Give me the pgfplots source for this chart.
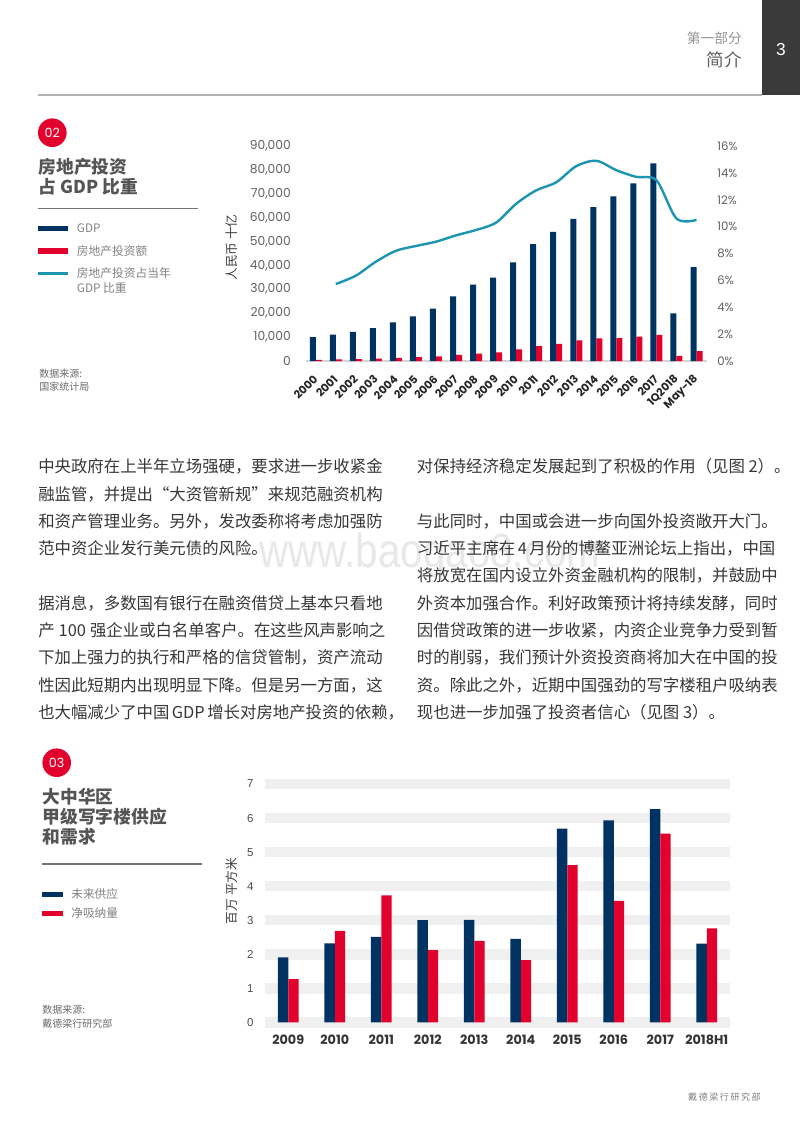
\documentclass[border=0pt]{standalone}
\usepackage{fontspec}
\setmainfont{Noto Sans CJK SC}
\newfontfamily\popp{Poppins}
\newfontfamily\lib{Liberation Sans}
\usepackage{pgfplots}
\pgfplotsset{compat=1.18}
\definecolor{navy}{RGB}{0,51,97}
\definecolor{cwred}{RGB}{226,0,45}
\definecolor{lteal}{RGB}{28,150,176}
\definecolor{band}{RGB}{240,240,240}
\definecolor{txt}{RGB}{55,55,55}
\definecolor{ttl}{RGB}{85,85,85}
\definecolor{lg}{RGB}{130,130,130}
\definecolor{dbox}{RGB}{58,58,58}
\XeTeXlinebreaklocale "zh"
\XeTeXlinebreakskip=0pt plus 3pt minus 0.5pt
\newcommand\fs[1]{\fontsize{#1}{#1}\selectfont}
\newcommand\BLL[2]{\node[anchor=base west,inner sep=0pt,text=txt,font=\fs{12.3pt}] at (38,#1) {\hbox to 260.25pt{#2}};}
\newcommand\BLR[2]{\node[anchor=base west,inner sep=0pt,text=txt,font=\fs{12.3pt}] at (416.7,#1) {\hbox to 255.75pt{#2}};}
\newcommand\BN[3]{\node[anchor=base west,inner sep=0pt,text=txt,font=\fs{12.3pt}] at (#1,#2) {#3};}
\begin{document}
\begin{tikzpicture}
\begin{scope}[x=0.75pt,y=-0.75pt]
\useasboundingbox (0,0) rectangle (800,1132);
\fill[white] (0,0) rectangle (800,1132);
% header
\fill[dbox] (762,0) rectangle (800,95);
\node[text=white,font=\lib\fs{13pt}] at (781,50) {3};
\node[anchor=east,inner sep=0pt,text=black!42,font=\fs{10.3pt}] at (742,38) {第一部分};
\node[anchor=east,inner sep=0pt,text=black!62,font=\fs{13.2pt}] at (742,60) {简介};
\draw[black!30,line width=0.9pt] (38,95) -- (762,95);
% watermark
\node[anchor=base,inner sep=0pt,text=black!9,font=\lib\fs{36pt},xscale=0.84,transform shape] at (430,567) {www.baogao8.com};
% chart 1 side
\fill[cwred] (52.3,132.7) circle (14.3);
\node[text=white,font=\popp\fs{9.5pt}] at (52.3,132.7) {02};
\node[anchor=west,inner sep=0pt,text=ttl,font=\bfseries\fs{13.3pt}] at (38.5,167) {房地产投资};
\node[anchor=west,inner sep=0pt,text=ttl,font=\bfseries\fs{13.3pt}] at (38.5,186.5) {占 GDP 比重};
\draw[black!55,line width=0.9pt] (38,208.3) -- (198,208.3);
\fill[navy] (38,225.5) rectangle (68,231.2);
\node[anchor=west,inner sep=0pt,text=lg,font=\fs{8.8pt}] at (76.7,228.3) {GDP};
\fill[cwred] (38,248.2) rectangle (68,253.9);
\node[anchor=west,inner sep=0pt,text=lg,font=\fs{8.8pt}] at (76.7,251) {房地产投资额};
\draw[lteal,line width=2pt] (38,273.3) -- (68,273.3);
\node[anchor=west,inner sep=0pt,text=lg,font=\fs{8.8pt}] at (76.7,273.3) {房地产投资占当年};
\node[anchor=west,inner sep=0pt,text=lg,font=\fs{8.8pt}] at (76.7,288) {GDP 比重};
\node[anchor=west,inner sep=0pt,text=black!58,font=\fs{7.5pt}] at (39,373.3) {数据来源:};
\node[anchor=west,inner sep=0pt,text=black!58,font=\fs{7.5pt}] at (39,386.3) {国家统计局};
\node[rotate=90,inner sep=0pt,text=black!75,font=\fs{9.5pt}] at (232,247.5) {人民币 十亿};
% body text
\BLL{472.5}{中央政府在上半年立场强硬，要求进一步收紧金}
\BLL{500}{融监管，并提出“大资管新规”来规范融资机构}
\BLL{527.3}{和资产管理业务。另外，发改委称将考虑加强防}
\BN{38}{554.6}{范中资企业发行美元债的风险。}
\BLL{609.2}{据消息，多数国有银行在融资借贷上基本只看地}
\BLL{636.5}{产 100 强企业或白名单客户。在这些风声影响之}
\BLL{663.8}{下加上强力的执行和严格的信贷管制，资产流动}
\BLL{691.1}{性因此短期内出现明显下降。但是另一方面，这}
\BLL{718.4}{也大幅减少了中国 GDP 增长对房地产投资的依赖，}
\BN{416.7}{472.5}{对保持经济稳定发展起到了积极的作用（见图 2）。}
\BN{416.7}{527.3}{与此同时，中国或会进一步向国外投资敞开大门。}
\BLR{554.6}{习近平主席在 4 月份的博鳌亚洲论坛上指出，中国}
\BLR{581.9}{将放宽在国内设立外资金融机构的限制，并鼓励中}
\BLR{609.2}{外资本加强合作。利好政策预计将持续发酵，同时}
\BLR{636.5}{因借贷政策的进一步收紧，内资企业竞争力受到暂}
\BLR{663.8}{时的削弱，我们预计外资投资商将加大在中国的投}
\BLR{691.1}{资。除此之外，近期中国强劲的写字楼租户吸纳表}
\BN{416.7}{718.4}{现也进一步加强了投资者信心（见图 3）。}
% chart 2 side
\fill[cwred] (56.7,762.7) circle (14.3);
\node[text=white,font=\popp\fs{9.5pt}] at (56.7,762.7) {03};
\node[anchor=west,inner sep=0pt,text=ttl,font=\bfseries\fs{13.3pt}] at (42.5,797) {大中华区};
\node[anchor=west,inner sep=0pt,text=ttl,font=\bfseries\fs{13.3pt}] at (42.5,817) {甲级写字楼供应};
\node[anchor=west,inner sep=0pt,text=ttl,font=\bfseries\fs{13.3pt}] at (42.5,837) {和需求};
\draw[black!55,line width=0.9pt] (42,864) -- (202,864);
\fill[navy] (42,891.5) rectangle (63.3,896.5);
\node[anchor=west,inner sep=0pt,text=lg,font=\fs{8.8pt}] at (71,894) {未来供应};
\fill[cwred] (42,910.5) rectangle (63.3,915.5);
\node[anchor=west,inner sep=0pt,text=lg,font=\fs{8.8pt}] at (71,913) {净吸纳量};
\node[anchor=west,inner sep=0pt,text=black!58,font=\fs{7.5pt}] at (42,1009.3) {数据来源:};
\node[anchor=west,inner sep=0pt,text=black!58,font=\fs{7.5pt}] at (42,1024) {戴德梁行研究部};
\node[rotate=90,inner sep=0pt,text=black!75,font=\fs{9.5pt}] at (232,891) {百万 平方米};
% footer
\node[anchor=east,inner sep=0pt,text=black!50,font=\fs{6.8pt}] at (761,1097) {戴\,德\,梁\,行\,研\,究\,部};
\end{scope}

% ---------- chart 1 : bars ----------
\begin{axis}[
  at={(229.3pt,-270.75pt)}, anchor=south west,
  scale only axis, width=300.6pt, height=161.25pt,
  xmin=-0.5, xmax=19.5, ymin=0, ymax=90000,
  enlargelimits=false, clip=false,
  ybar=0pt, bar width=4.5pt,
  axis x line*=bottom, axis y line*=left,
  x axis line style={draw=black!17, line width=0.8pt},
  y axis line style={draw=none},
  major tick length=0pt,
  xtick={0,...,19},
  xticklabels={2000,2001,2002,2003,2004,2005,2006,2007,2008,2009,2010,2011,2012,2013,2014,2015,2016,2017,1Q2018,May-18},
  xticklabel style={font=\popp\bfseries\fs{8.3pt}, text=black!85, rotate=45, anchor=east, inner sep=0pt},
  xticklabel shift=12pt,
  ytick={0,10000,...,90000},
  scaled y ticks=false,
  yticklabel style={font=\popp\fs{9.2pt}, text=black!62, anchor=east, inner sep=0pt, xshift=-11pt,
     /pgf/number format/.cd, 1000 sep={,}, assume math mode=true},
]
\addplot[fill=navy, draw=none] coordinates {
(0,10028) (1,11086) (2,12172) (3,13742) (4,16184) (5,18732) (6,21944) (7,27023) (8,31952) (9,34908)
(10,41303) (11,48930) (12,54037) (13,59524) (14,64397) (15,68905) (16,74359) (17,82712) (18,19888) (19,39339)};
\addplot[fill=cwred, draw=none] coordinates {
(0,498) (1,634) (2,779) (3,1015) (4,1316) (5,1591) (6,1942) (7,2529) (8,3120) (9,3624)
(10,4826) (11,6180) (12,7180) (13,8601) (14,9504) (15,9598) (16,10258) (17,10980) (18,2126) (19,4163)};
\end{axis}

% ---------- chart 1 : ratio line ----------
\begin{axis}[
  at={(229.3pt,-270.75pt)}, anchor=south west,
  scale only axis, width=300.6pt, height=161.25pt,
  xmin=-0.5, xmax=19.5, ymin=0, ymax=16,
  enlargelimits=false, clip=false,
  hide x axis, axis y line*=right, y axis line style={draw=none},
  major tick length=0pt,
  ytick={0,2,...,16},
  yticklabel={\pgfmathprintnumber{\tick}\%},
  yticklabel style={font=\popp\fs{8.8pt}, text=black!62, anchor=west, inner sep=0pt, xshift=7.9pt,
     /pgf/number format/assume math mode=true},
]
\addplot[lteal, line width=1.8pt, smooth, tension=0.5, mark=none] coordinates {
(1,5.73) (2,6.35) (3,7.39) (4,8.2) (5,8.56) (6,8.88) (7,9.35) (8,9.75) (9,10.3) (10,11.7)
(11,12.7) (12,13.3) (13,14.5) (14,14.9) (15,14.2) (16,13.7) (17,13.45) (18,10.6) (19,10.5)};
\end{axis}

% ---------- chart 2 ----------
\begin{axis}[
  at={(198.75pt,-766.725pt)}, anchor=south west,
  scale only axis, width=348.75pt, height=178.7pt,
  xmin=-0.5, xmax=9.5, ymin=0, ymax=7,
  enlargelimits=false, clip=false,
  ybar=0pt, bar width=7.7pt,
  axis line style={draw=none}, major tick length=0pt,
  ymajorgrids, grid style={draw=band, line width=7.9pt},
  xtick={0,...,9},
  xticklabels={2009,2010,2011,2012,2013,2014,2015,2016,2017,2018H1},
  xticklabel style={font=\popp\bfseries\fs{9.6pt}, text=black!80, anchor=north, inner sep=0pt, yshift=-9pt},
  ytick={0,...,7},
  yticklabel style={font=\lib\fs{8.6pt}, text=black!70, anchor=east, inner sep=0pt, xshift=-8.5pt,
     /pgf/number format/assume math mode=true},
]
\addplot[fill=navy, draw=none] coordinates {
(0,1.91) (1,2.32) (2,2.51) (3,3.00) (4,3.01) (5,2.45) (6,5.69) (7,5.93) (8,6.26) (9,2.31)};
\addplot[fill=cwred, draw=none] coordinates {
(0,1.27) (1,2.69) (2,3.73) (3,2.12) (4,2.39) (5,1.83) (6,4.62) (7,3.57) (8,5.54) (9,2.76)};
\end{axis}
\end{tikzpicture}
\end{document}
